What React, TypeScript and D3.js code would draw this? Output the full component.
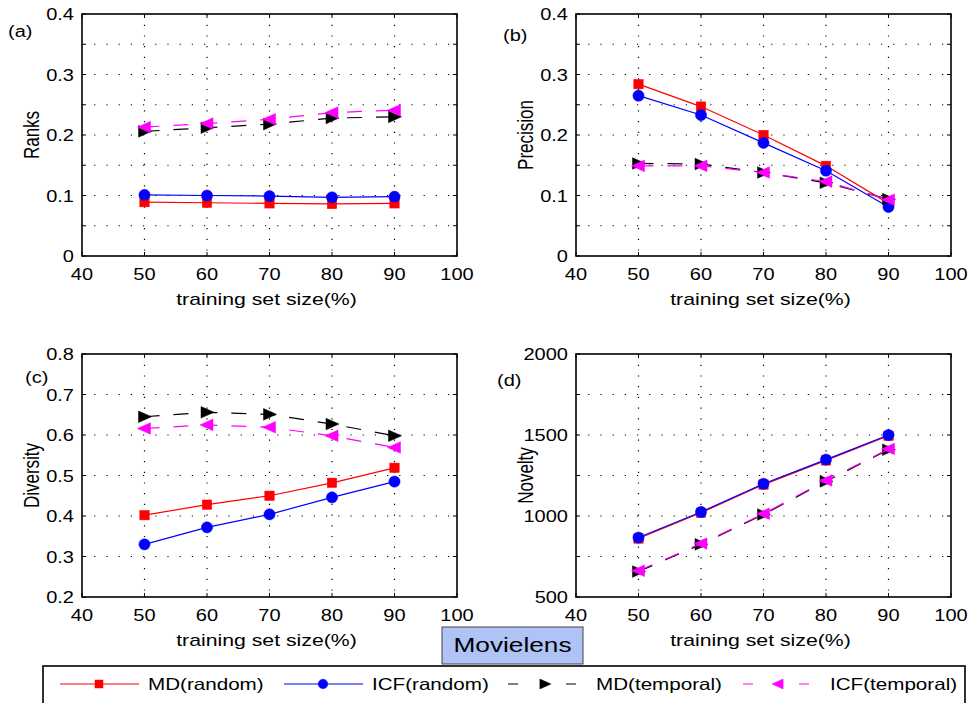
import React from 'react';
import * as d3 from 'd3';

// Training-set sizes (%) on the x axis
const trainingSizes = [50, 60, 70, 80, 90];
const xTickValues = [40, 50, 60, 70, 80, 90, 100];

// (a) Ranks
const ranksMDRandom = [0.089, 0.088, 0.087, 0.086, 0.087];
const ranksICFRandom = [0.101, 0.100, 0.099, 0.097, 0.098];
const ranksMDTemporal = [0.206, 0.212, 0.218, 0.228, 0.230];
const ranksICFTemporal = [0.213, 0.219, 0.226, 0.237, 0.241];

// (b) Precision
const precMDRandom = [0.284, 0.247, 0.200, 0.149, 0.087];
const precICFRandom = [0.265, 0.233, 0.187, 0.141, 0.081];
const precMDTemporal = [0.153, 0.152, 0.138, 0.121, 0.094];
const precICFTemporal = [0.149, 0.149, 0.138, 0.123, 0.093];

// (c) Diversity
const divMDRandom = [0.402, 0.428, 0.450, 0.482, 0.519];
const divICFRandom = [0.330, 0.372, 0.404, 0.446, 0.485];
const divMDTemporal = [0.645, 0.656, 0.651, 0.627, 0.598];
const divICFTemporal = [0.616, 0.625, 0.619, 0.598, 0.569];

// (d) Novelty
const novMDRandom = [861, 1020, 1194, 1343, 1495];
const novICFRandom = [867, 1025, 1199, 1348, 1500];
const novMDTemporal = [657, 825, 1009, 1214, 1409];
const novICFTemporal = [662, 830, 1014, 1219, 1414];

// Axis tick values: grid positions and labelled positions
const gridTicksSmall = [0, 0.05, 0.1, 0.15, 0.2, 0.25, 0.3, 0.35, 0.4];
const labelTicksSmall = [0, 0.1, 0.2, 0.3, 0.4];
const gridTicksDiversity = [0.2, 0.3, 0.4, 0.5, 0.6, 0.7, 0.8];
const labelTicksDiversity = [0.2, 0.3, 0.4, 0.5, 0.6, 0.7, 0.8];
const gridTicksNovelty = [500, 750, 1000, 1250, 1500, 1750, 2000];
const labelTicksNovelty = [500, 1000, 1500, 2000];

const seriesNames = ['MD(random)', 'ICF(random)', 'MD(temporal)', 'ICF(temporal)'];

type Marker = 'square' | 'circle' | 'triRight' | 'triLeft';
const seriesStyle: { color: string; dashed: boolean; marker: Marker }[] = [
  { color: '#ff0000', dashed: false, marker: 'square' },
  { color: '#0000ff', dashed: false, marker: 'circle' },
  { color: '#000000', dashed: true, marker: 'triRight' },
  { color: '#ff00ff', dashed: true, marker: 'triLeft' },
];

const FONT = '"Liberation Sans", Arial, Helvetica, sans-serif';
const SX = 1.25; // horizontal text stretch

const W = 971;
const H = 703;

interface PanelDef {
  tag: string;
  yLabel: string;
  domain: [number, number];
  grid: number[];
  labels: number[];
  left: number;
  top: number;
  data: number[][];
  tagPos: [number, number];
}

const PW = 375;
const PH_TOP = 242;
const PH_BOT = 243;

const panels: PanelDef[] = [
  { tag: '(a)', yLabel: 'Ranks', domain: [0, 0.4], grid: gridTicksSmall, labels: labelTicksSmall, left: 82, top: 14,
    data: [ranksMDRandom, ranksICFRandom, ranksMDTemporal, ranksICFTemporal], tagPos: [8, 37] },
  { tag: '(b)', yLabel: 'Precision', domain: [0, 0.4], grid: gridTicksSmall, labels: labelTicksSmall, left: 576, top: 14,
    data: [precMDRandom, precICFRandom, precMDTemporal, precICFTemporal], tagPos: [503, 41] },
  { tag: '(c)', yLabel: 'Diversity', domain: [0.2, 0.8], grid: gridTicksDiversity, labels: labelTicksDiversity, left: 82, top: 354,
    data: [divMDRandom, divICFRandom, divMDTemporal, divICFTemporal], tagPos: [25, 383] },
  { tag: '(d)', yLabel: 'Novelty', domain: [500, 2000], grid: gridTicksNovelty, labels: labelTicksNovelty, left: 576, top: 354,
    data: [novMDRandom, novICFRandom, novMDTemporal, novICFTemporal], tagPos: [497, 386] },
];

function MarkerShape({ kind, x, y, color, s = 1 }: { kind: Marker; x: number; y: number; color: string; s?: number }) {
  if (kind === 'square') {
    const h = 4.7 * s;
    return <rect x={x - h} y={y - h} width={2 * h} height={2 * h} fill={color} stroke={color} strokeWidth={0.5} />;
  }
  if (kind === 'circle') {
    return <circle cx={x} cy={y} r={5.6 * s} fill={color} stroke={color} strokeWidth={0.5} />;
  }
  const dir = kind === 'triRight' ? 1 : -1;
  const pts = [
    [x - dir * 6 * s, y - 5.8 * s],
    [x - dir * 6 * s, y + 5.8 * s],
    [x + dir * 7 * s, y],
  ];
  return <polygon points={pts.map((p) => p.join(',')).join(' ')} fill={color} stroke={color} strokeWidth={0.5} />;
}

function fmt(v: number) {
  return String(+v.toFixed(2));
}

function Panel({ p }: { p: PanelDef }) {
  const ph = p.top < 100 ? PH_TOP : PH_BOT;
  const x = d3.scaleLinear().domain([40, 100]).range([p.left, p.left + PW]);
  const y = d3.scaleLinear().domain(p.domain).range([p.top + ph, p.top]);
  const bottom = p.top + ph;
  const right = p.left + PW;
  const tick = 4;

  const lineGen = d3
    .line<number>()
    .x((_, i) => x(trainingSizes[i]))
    .y((d) => y(d));

  return (
    <g>
      {/* dotted grid */}
      {trainingSizes.map((t) => (
        <line key={'gx' + t} x1={x(t)} x2={x(t)} y1={p.top} y2={bottom} stroke="#000" strokeWidth={1.2} strokeDasharray="1.2 9.5" />
      ))}
      {p.grid.slice(1, -1).map((t) => (
        <line key={'gy' + t} x1={p.left} x2={right} y1={y(t)} y2={y(t)} stroke="#000" strokeWidth={1.2} strokeDasharray="1.2 11" />
      ))}
      {/* inward ticks */}
      {xTickValues.map((t) => (
        <g key={'tx' + t}>
          <line x1={x(t)} x2={x(t)} y1={bottom} y2={bottom - tick} stroke="#000" strokeWidth={1} />
          <line x1={x(t)} x2={x(t)} y1={p.top} y2={p.top + tick} stroke="#000" strokeWidth={1} />
        </g>
      ))}
      {p.grid.map((t) => (
        <g key={'ty' + t}>
          <line x1={p.left} x2={p.left + tick} y1={y(t)} y2={y(t)} stroke="#000" strokeWidth={1} />
          <line x1={right} x2={right - tick} y1={y(t)} y2={y(t)} stroke="#000" strokeWidth={1} />
        </g>
      ))}
      {/* series */}
      {p.data.map((vals, si) => {
        const st = seriesStyle[si];
        return (
          <g key={'s' + si}>
            <path d={lineGen(vals) || ''} fill="none" stroke={st.color} strokeWidth={1.2} strokeDasharray={st.dashed ? '15 14' : undefined} />
            {vals.map((v, i) => (
              <MarkerShape key={i} kind={st.marker} x={x(trainingSizes[i])} y={y(v)} color={st.color} />
            ))}
          </g>
        );
      })}
      {/* frame */}
      <rect x={p.left} y={p.top} width={PW} height={ph} fill="none" stroke="#000" strokeWidth={1.6} />
      {/* x tick labels */}
      {xTickValues.map((t) => (
        <text key={'lx' + t} transform={`translate(${x(t)},${bottom + 24}) scale(${SX},1)`} textAnchor="middle" fontSize={16} fontFamily={FONT} fill="#000">
          {t}
        </text>
      ))}
      {/* y tick labels */}
      {p.labels.map((t) => (
        <text key={'ly' + t} transform={`translate(${p.left - 8},${y(t) + 6}) scale(${SX},1)`} textAnchor="end" fontSize={16} fontFamily={FONT} fill="#000">
          {fmt(t)}
        </text>
      ))}
      {/* axis titles */}
      <text transform={`translate(${(p.left + right) / 2 - 3},${bottom + 49}) scale(${SX},1)`} textAnchor="middle" fontSize={17} fontFamily={FONT} fill="#000">
        training set size(%)
      </text>
      <text
        transform={`translate(${p.left - 43},${p.top + ph / 2}) scale(${SX},1) rotate(-90)`}
        textAnchor="middle"
        fontSize={17}
        fontFamily={FONT}
        fill="#000"
      >
        {p.yLabel}
      </text>
      <text transform={`translate(${p.tagPos[0]},${p.tagPos[1]}) scale(${SX},1)`} fontSize={16} fontFamily={FONT} fill="#000">
        {p.tag}
      </text>
    </g>
  );
}

const legendItems = [
  { lineX: [60, 139], markX: 99, textX: 148 },
  { lineX: [284, 363], markX: 323, textX: 372 },
  { lineX: [508, 576], markX: 545, textX: 596 },
  { lineX: [743, 809], markX: 778, textX: 830 },
];

export default function App() {
  const ly = 684;
  return (
    <svg width={W} height={H} style={{ position: 'absolute', left: 0, top: 0, background: '#fff' }}>
      <rect x={0} y={0} width={W} height={H} fill="#fff" />
      {panels.map((p) => (
        <Panel key={p.tag} p={p} />
      ))}
      {/* dataset tag */}
      <rect x={442} y={627} width={141} height={37} fill="#afc3f7" stroke="#444" strokeWidth={1} />
      <text transform={`translate(512.5,652) scale(${SX},1)`} textAnchor="middle" fontSize={21} fontFamily={FONT} fill="#000">
        Movielens
      </text>
      {/* legend */}
      <rect x={43} y={666} width={922} height={50} fill="#fff" stroke="#000" strokeWidth={1.6} />
      {seriesNames.map((name, i) => {
        const st = seriesStyle[i];
        const it = legendItems[i];
        const span = it.lineX[1] - it.lineX[0];
        return (
          <g key={name}>
            <line
              x1={it.lineX[0]}
              x2={it.lineX[1]}
              y1={ly}
              y2={ly}
              stroke={st.color}
              strokeWidth={1.1}
              strokeDasharray={st.dashed ? `10 ${span - 20}` : undefined}
            />
            <MarkerShape kind={st.marker} x={it.markX} y={ly} color={st.color} s={0.85} />
            <text transform={`translate(${it.textX},${ly + 6}) scale(${SX},1)`} fontSize={16.5} fontFamily={FONT} fill="#000">
              {name}
            </text>
          </g>
        );
      })}
    </svg>
  );
}
